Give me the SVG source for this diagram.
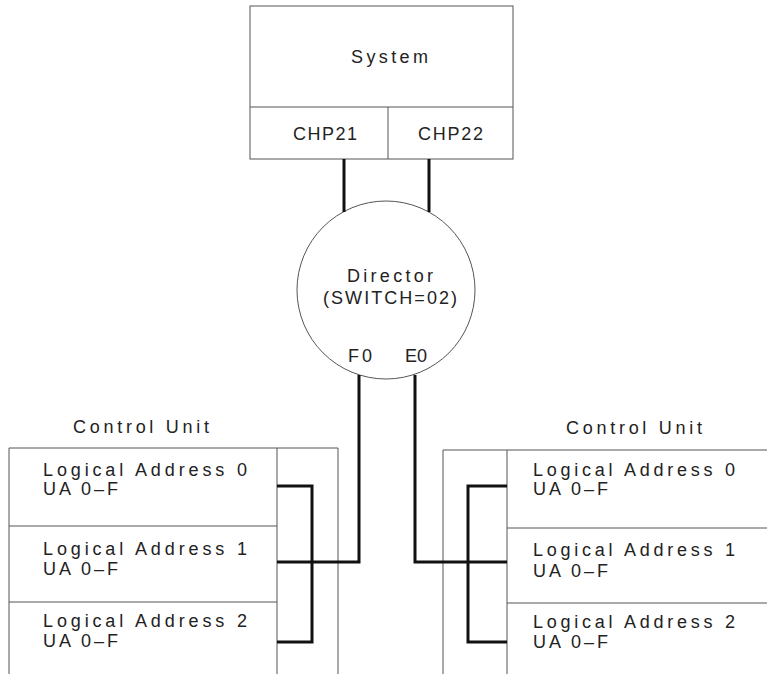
<svg xmlns="http://www.w3.org/2000/svg" width="767" height="674" viewBox="0 0 767 674">
<style>
.box{fill:none;stroke:#555;stroke-width:1}
.t{font-family:"Liberation Sans",Arial,sans-serif;font-size:18px;fill:#222}
.w{fill:none;stroke:#111;stroke-width:3}
</style>
<rect width="767" height="674" fill="#fff"/>
<g id="system">
<rect class="box" x="250" y="6" width="263" height="153"/>
<line class="box" x1="250" y1="107" x2="513" y2="107"/>
<line class="box" x1="388" y1="107" x2="388" y2="159"/>
<text class="t" x="351" y="63" textLength="77" lengthAdjust="spacing">System</text>
<text class="t" x="293" y="140" textLength="64" lengthAdjust="spacing">CHP21</text>
<text class="t" x="418" y="140" textLength="65" lengthAdjust="spacing">CHP22</text>
</g>
<g id="director">
<circle class="box" cx="386" cy="290" r="89"/>
<text class="t" x="347" y="282" textLength="86" lengthAdjust="spacing">Director</text>
<text class="t" x="323" y="304" textLength="134" lengthAdjust="spacing">(SWITCH=02)</text>
<text class="t" x="348" y="362" textLength="24" lengthAdjust="spacing">F0</text>
<text class="t" x="405" y="362" textLength="22" lengthAdjust="spacing">E0</text>
</g>
<g id="cu-left">
<text class="t" x="73" y="433" textLength="136" lengthAdjust="spacing">Control Unit</text>
<polyline class="box" points="9,674 9,448 338,448 338,674"/>
<line class="box" x1="277" y1="448" x2="277" y2="674"/>
<line class="box" x1="9" y1="526" x2="277" y2="526"/>
<line class="box" x1="9" y1="602" x2="277" y2="602"/>
<text class="t" x="43" y="476" textLength="204" lengthAdjust="spacing">Logical Address 0</text>
<text class="t" x="43" y="495" textLength="75" lengthAdjust="spacing">UA 0–F</text>
<text class="t" x="43" y="555" textLength="204" lengthAdjust="spacing">Logical Address 1</text>
<text class="t" x="43" y="575" textLength="75" lengthAdjust="spacing">UA 0–F</text>
<text class="t" x="43" y="627" textLength="204" lengthAdjust="spacing">Logical Address 2</text>
<text class="t" x="43" y="647" textLength="75" lengthAdjust="spacing">UA 0–F</text>
</g>
<g id="cu-right">
<text class="t" x="566" y="434" textLength="136" lengthAdjust="spacing">Control Unit</text>
<polyline class="box" points="443,674 443,450 767,450"/>
<line class="box" x1="507" y1="450" x2="507" y2="674"/>
<line class="box" x1="507" y1="528" x2="767" y2="528"/>
<line class="box" x1="507" y1="603" x2="767" y2="603"/>
<text class="t" x="533" y="476" textLength="202" lengthAdjust="spacing">Logical Address 0</text>
<text class="t" x="533" y="495" textLength="75" lengthAdjust="spacing">UA 0–F</text>
<text class="t" x="533" y="556" textLength="202" lengthAdjust="spacing">Logical Address 1</text>
<text class="t" x="533" y="577" textLength="75" lengthAdjust="spacing">UA 0–F</text>
<text class="t" x="533" y="628" textLength="202" lengthAdjust="spacing">Logical Address 2</text>
<text class="t" x="533" y="648" textLength="75" lengthAdjust="spacing">UA 0–F</text>
</g>
<g id="connectors">
<line class="w" x1="344" y1="159" x2="344" y2="212"/>
<line class="w" x1="429" y1="159" x2="429" y2="212"/>
<polyline class="w" points="359,375 359,562 277,562"/>
<polyline class="w" points="277,486 312,486 312,642 277,642"/>
<polyline class="w" points="415,375 415,562 507,562"/>
<polyline class="w" points="507,486 468,486 468,642 507,642"/>
</g>
</svg>
